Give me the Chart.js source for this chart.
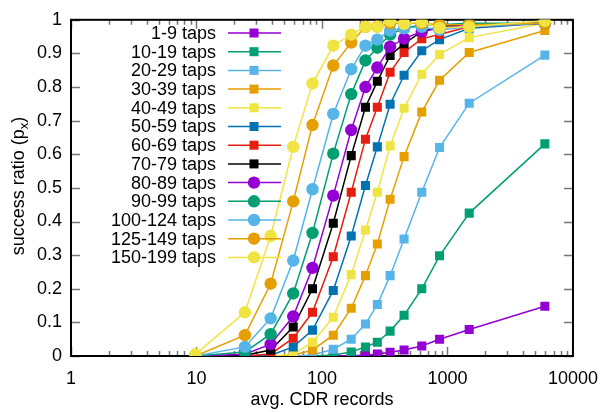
<!DOCTYPE html>
<html><head><meta charset="utf-8">
<script src="https://cdn.jsdelivr.net/npm/chart.js@4/dist/chart.umd.min.js"></script>
<style>html,body{margin:0;padding:0;background:#fff}#wrap{width:610px;height:412px}</style>
</head><body><div id="wrap"><canvas id="c" width="610" height="412"></canvas></div>
<script>
const records = [9.8, 24.3, 39, 59, 84, 123, 171, 222, 276, 349, 451, 624, 865, 1490, 5970];
const seriesNames = ['1-9 taps','10-19 taps','20-29 taps','30-39 taps','40-49 taps','50-59 taps','60-69 taps','70-79 taps','80-89 taps','90-99 taps','100-124 taps','125-149 taps','150-199 taps'];
const taps1_9    = [0,0,0,0,0,0,0.001,0.002,0.006,0.011,0.018,0.03,0.05,0.079,0.148];
const taps10_19  = [0,0,0,0,0,0.003,0.012,0.027,0.041,0.074,0.121,0.2,0.298,0.425,0.631];
const taps20_29  = [0,0,0,0,0.003,0.02,0.05,0.095,0.153,0.239,0.348,0.487,0.62,0.752,0.895];
const taps30_39  = [0,0,0,0.002,0.018,0.062,0.142,0.239,0.333,0.466,0.593,0.726,0.82,0.903,0.968];
const taps40_49  = [0,0,0,0.005,0.041,0.115,0.242,0.375,0.487,0.625,0.737,0.838,0.897,0.947,0.99];
const taps50_59  = [0,0,0.002,0.027,0.077,0.195,0.357,0.507,0.622,0.749,0.835,0.908,0.941,0.975,0.99];
const taps60_69  = [0,0,0.006,0.053,0.13,0.295,0.487,0.645,0.74,0.844,0.903,0.944,0.956,0.98,0.99];
const taps70_79  = [0,0.002,0.018,0.086,0.2,0.395,0.596,0.74,0.817,0.894,0.929,0.965,0.98,0.985,0.99];
const taps80_89  = [0,0.005,0.035,0.118,0.262,0.477,0.672,0.80,0.858,0.92,0.944,0.965,0.975,0.985,0.99];
const taps90_99  = [0,0.012,0.065,0.186,0.366,0.602,0.779,0.879,0.917,0.956,0.975,0.985,0.985,0.99,0.99];
const taps100_124= [0,0.027,0.112,0.284,0.496,0.72,0.853,0.923,0.941,0.968,0.975,0.979,0.97,0.98,0.99];
const taps125_149= [0,0.062,0.215,0.46,0.687,0.864,0.932,0.979,0.98,0.99,0.99,0.99,0.985,0.985,0.99];
const taps150_199= [0.005,0.13,0.357,0.622,0.811,0.923,0.956,0.979,0.979,0.997,0.988,0.994,0.976,0.979,0.997];
const xTickLabels = [1, 10, 100, 1000, 10000];
const yTickStep = 0.1;

const allSeries = [taps1_9,taps10_19,taps20_29,taps30_39,taps40_49,taps50_59,taps60_69,taps70_79,taps80_89,taps90_99,taps100_124,taps125_149,taps150_199];
const colors = ['#9400d3','#009e73','#56b4e9','#e69f00','#f0e442','#0072b2','#e51e10','#000000','#9400d3','#009e73','#56b4e9','#e69f00','#f0e442'];
const FONT = '"Liberation Sans", Arial, sans-serif';
const FS = 18;

const datasets = allSeries.map((vals, i) => ({
  label: seriesNames[i],
  data: vals.map((v, j) => ({x: records[j], y: v})),
  borderColor: colors[i],
  backgroundColor: colors[i],
  borderWidth: 1.5,
  pointStyle: i < 8 ? 'rect' : 'circle',
  pointRadius: i < 8 ? 6.4 : 6.2,
  pointBorderWidth: 0,
  pointHoverRadius: 6,
  tension: 0,
  order: 20 - i
}));

const decor = {
  id: 'decor',
  beforeDatasetsDraw(chart) {
    const {ctx, chartArea: a, scales} = chart;
    ctx.save();
    ctx.strokeStyle = '#777';
    ctx.lineWidth = 1.5;
    ctx.beginPath();
    for (let k = 0; k <= 10; k++) {
      const y = Math.round(scales.y.getPixelForValue(k * yTickStep)) + 0.5;
      ctx.moveTo(a.left, y); ctx.lineTo(a.left + 9, y);
      ctx.moveTo(a.right, y); ctx.lineTo(a.right - 9, y);
    }
    for (let d = 0; d < 4; d++) {
      for (let m = 1; m <= 9; m++) {
        const v = m * Math.pow(10, d);
        const x = Math.round(scales.x.getPixelForValue(v)) + 0.5;
        const len = m === 1 ? 9 : 5;
        ctx.moveTo(x, a.bottom); ctx.lineTo(x, a.bottom - len);
        ctx.moveTo(x, a.top); ctx.lineTo(x, a.top + len);
      }
    }
    ctx.stroke();
    ctx.strokeStyle = '#000';
    ctx.lineWidth = 2;
    ctx.strokeRect(a.left, a.top, a.right - a.left, a.bottom - a.top);
    ctx.restore();
  },
  afterDatasetsDraw(chart) {
    const {ctx} = chart;
    ctx.save();
    ctx.font = FS + 'px ' + FONT;
    ctx.textAlign = 'right';
    ctx.textBaseline = 'middle';
    for (let i = 0; i < seriesNames.length; i++) {
      const y = 33 + i * 18.7;
      ctx.fillStyle = '#000';
      ctx.fillText(seriesNames[i], 216, y + 1);
      ctx.strokeStyle = colors[i];
      ctx.lineWidth = 1.5;
      ctx.beginPath(); ctx.moveTo(228, y); ctx.lineTo(281, y); ctx.stroke();
      ctx.fillStyle = colors[i];
      if (i < 8) { ctx.fillRect(254 - 4.5, y - 4.5, 9, 9); }
      else { ctx.beginPath(); ctx.arc(254, y, 6.2, 0, Math.PI * 2); ctx.fill(); }
    }
    ctx.translate(18, 186);
    ctx.rotate(-Math.PI / 2);
    ctx.fillStyle = '#000';
    ctx.textBaseline = 'alphabetic';
    ctx.textAlign = 'left';
    const p1 = 'success ratio (p';
    ctx.font = FS + 'px ' + FONT;
    const w1 = ctx.measureText(p1).width;
    ctx.font = Math.round(FS * 0.7) + 'px ' + FONT;
    const w2 = ctx.measureText('x').width;
    ctx.font = FS + 'px ' + FONT;
    const w3 = ctx.measureText(')').width;
    const total = w1 + w2 + w3;
    let x0 = -total / 2;
    const base = 6;
    ctx.fillText(p1, x0, base);
    ctx.font = Math.round(FS * 0.7) + 'px ' + FONT;
    ctx.fillText('x', x0 + w1, base + 4);
    ctx.font = FS + 'px ' + FONT;
    ctx.fillText(')', x0 + w1 + w2, base);
    ctx.restore();
  }
};

new Chart(document.getElementById('c'), {
  type: 'line',
  data: {datasets},
  options: {
    responsive: false,
    animation: false,
    devicePixelRatio: 1,
    layout: {padding: {left: 0, right: 31, top: 16, bottom: 0}},
    plugins: {legend: {display: false}, tooltip: {enabled: false}},
    scales: {
      x: {
        type: 'logarithmic', min: 1, max: 10000,
        grid: {display: false, drawTicks: false},
        border: {display: false},
        ticks: {
          autoSkip: false, maxRotation: 0, padding: 12, color: '#000',
          font: {family: FONT, size: FS},
          callback: (v) => xTickLabels.includes(v) ? String(v) : ''
        },
        title: {display: true, text: 'avg. CDR records', color: '#000', font: {family: FONT, size: FS}, padding: {top: 0, bottom: 1}},
        afterFit: (s) => { s.height = 56; }
      },
      y: {
        type: 'linear', min: 0, max: 1,
        grid: {display: false, drawTicks: false},
        border: {display: false},
        ticks: {stepSize: yTickStep, padding: 9, color: '#000', font: {family: FONT, size: FS},
          callback: (v) => String(Math.round(v * 10) / 10)},
        afterFit: (s) => { s.width = 71; }
      }
    }
  },
  plugins: [decor]
});
</script></body></html>
